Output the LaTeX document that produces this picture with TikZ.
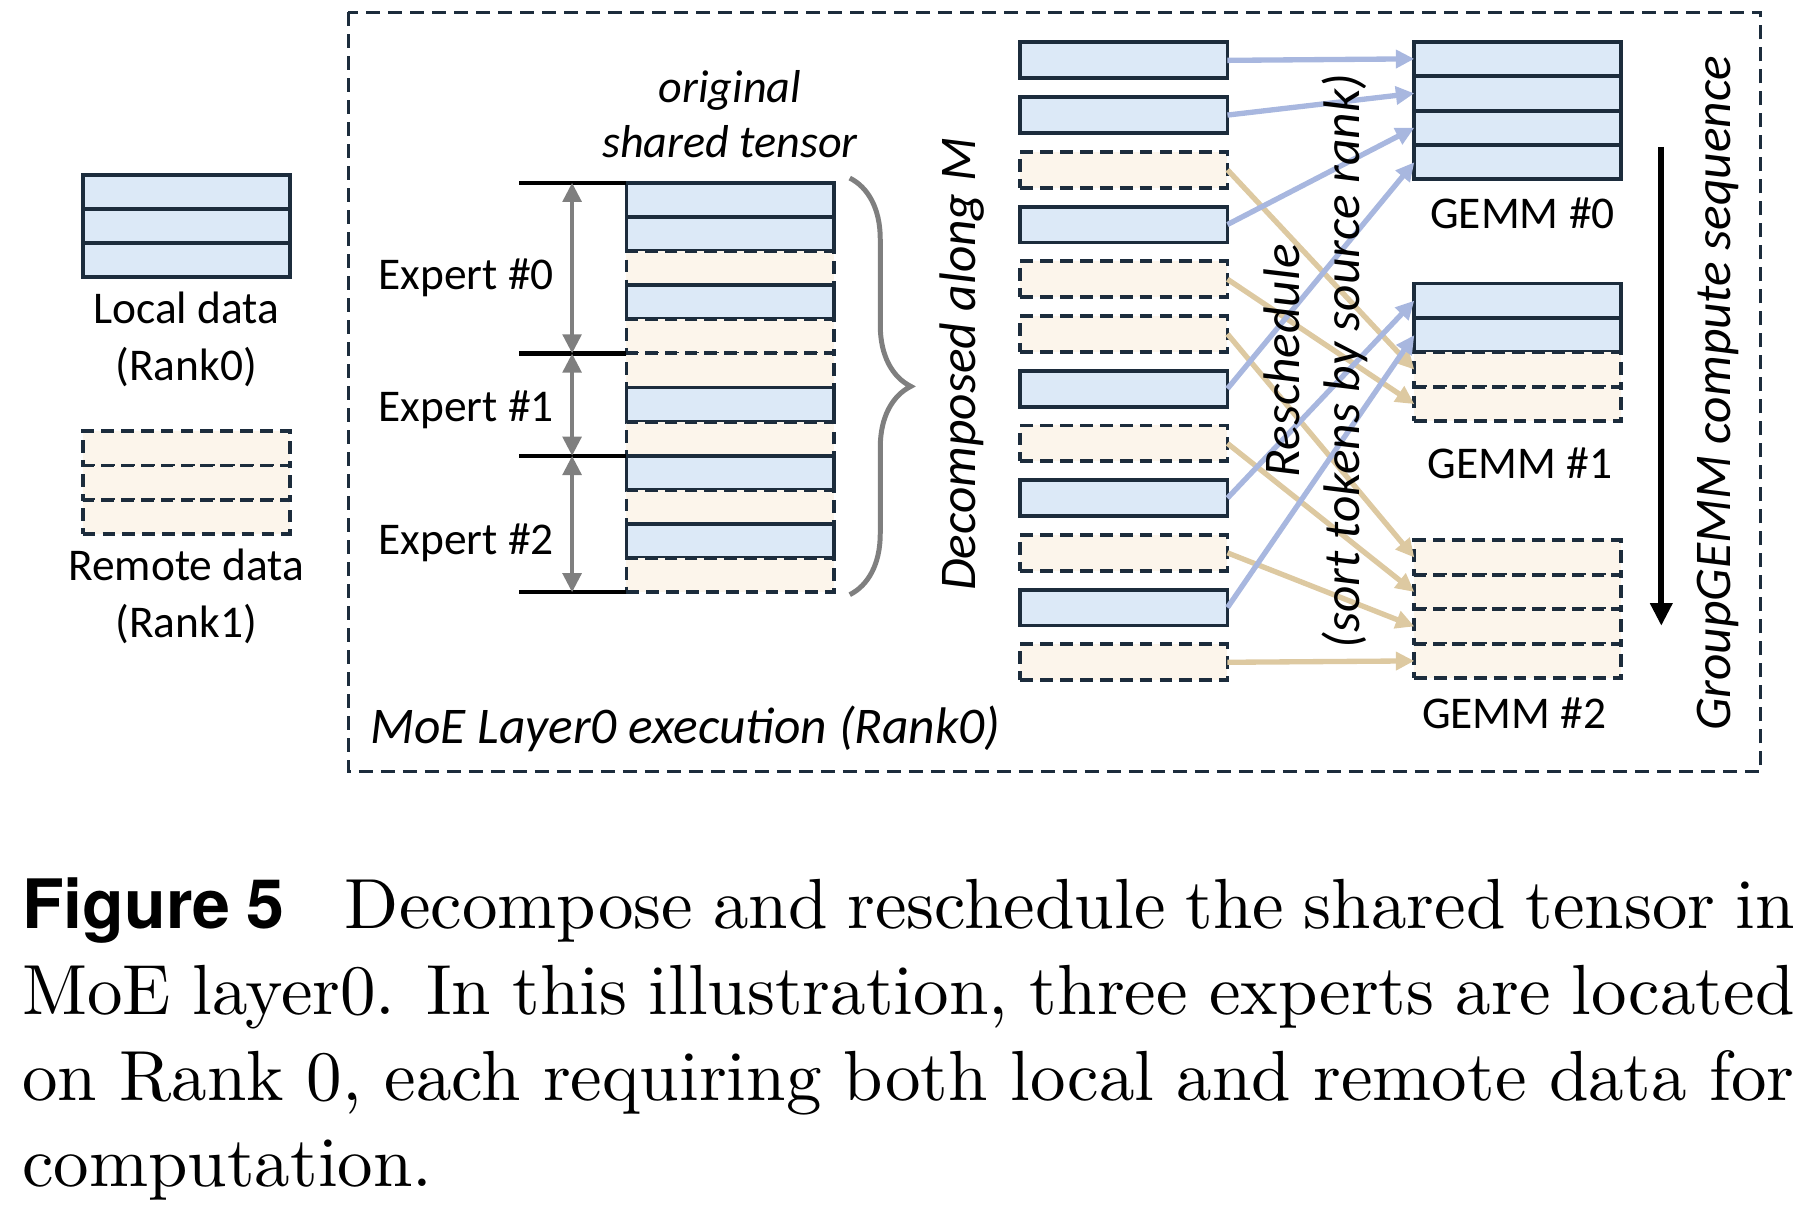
\documentclass[tikz,border=0pt]{standalone}
\usepackage{fontspec}
\newfontfamily\calibri{Carlito}
\newfontfamily\heros{TeX Gyre Heros}
\usetikzlibrary{positioning,arrows.meta,decorations.pathreplacing}
\definecolor{edge}{HTML}{1C2C3C}
\definecolor{localfill}{HTML}{DCE9F7}
\definecolor{remotefill}{HTML}{FCF5EB}
\definecolor{localarr}{HTML}{A8B7DF}
\definecolor{remotearr}{HTML}{DDC9A1}
\definecolor{markgray}{HTML}{7F7F7F}
\begin{document}
\begin{tikzpicture}[x=0.163pt,y=-0.163pt,
  row/.style={draw=edge,line width=0.55pt,inner sep=0pt,outer sep=0pt,minimum width=179*0.163pt,minimum height=29.6*0.163pt},
  loc/.style={row,fill=localfill},
  rem/.style={row,fill=remotefill,dash pattern=on 1.8pt off 1pt},
  lbl/.style={font=\calibri\fontsize{6.4}{7.7}\selectfont,inner sep=0pt,anchor=base},
  ital/.style={font=\calibri\itshape\fontsize{6.5}{7.8}\selectfont,inner sep=0pt,anchor=base},
  rot/.style={font=\calibri\itshape\fontsize{7.25}{8.7}\selectfont,inner sep=0pt,anchor=base,rotate=90},
  tip/.style={-{Triangle[length=2.6pt,width=2.5pt]}},
  la/.style={tip,line width=0.75pt,localarr},
  ra/.style={tip,line width=0.75pt,remotearr}]
\useasboundingbox (0,0) rectangle (1568,1054);
\draw[edge,line width=0.45pt,dash pattern=on 2pt off 1.1pt] (301,10.5) rectangle (1522,667);

\foreach \i in {1,2,3} \node[loc] (legl\i) at (161,136.2+29.5*\i) {};
\foreach \i in {1,2,3} \node[rem] (legr\i) at (161,358.2+29.5*\i) {};
\node[lbl] (loctxt) at (161,280) {Local data};
\node[lbl] (locrank) at (161,328.5) {(Rank0)};
\node[lbl] (remtxt) at (161,502) {Remote data};
\node[lbl] (remrank) at (161,551) {(Rank1)};

\node[ital] (orig) at (631,88.6) {original};
\node[ital] (shtxt) at (631,136) {shared tensor};
\foreach \t [count=\i] in {loc,loc,rem,loc,rem,rem,loc,rem,loc,rem,loc,rem}
  \node[\t] (st\i) at (631,143.25+29.5*\i) {};
\foreach \n [count=\k] in {st1.north west,st5.south west,st8.south west,st12.south west}{
  \draw[line width=0.6pt] (\n) -- ++(-93,0);
  \path (\n) ++(-47,0) coordinate (m\k);
}
\foreach \a/\b in {1/2,2/3,3/4}
  \draw[{Triangle[length=2.7pt,width=2.6pt]}-{Triangle[length=2.7pt,width=2.6pt]},line width=0.6pt,markgray] (m\a) -- (m\b);
\node[lbl,anchor=base west] (ex0) at (326,250) {Expert \#0};
\node[lbl,anchor=base west] (ex1) at (326,364) {Expert \#1};
\node[lbl,anchor=base west] (ex2) at (326,479) {Expert \#2};
\draw[markgray,line width=0.7pt,decorate,decoration={brace,amplitude=8.6pt}]
  ([shift={(14,-4)}]st1.north east) -- ([shift={(14,2)}]st12.south east);
\node[rot] (decomp) at (843,315) {Decomposed along M};

\foreach \t [count=\i] in {loc,loc,rem,loc,rem,rem,loc,rem,loc,rem,loc,rem}
  \node[\t,minimum height=31*0.163pt] (d\i) at (971.5,4.9+47.3*\i) {};
\foreach \g/\top/\ts in {0/36/{loc,loc,loc,loc},1/245/{loc,loc,rem,rem},2/467/{rem,rem,rem,rem}}
  \foreach \t [count=\i] in \ts
    \node[\t] (g\g r\i) at (1312,\top-14.9+29.8*\i) {};
\node[lbl] (gl0) at (1316,197.5) {GEMM \#0};
\node[lbl] (gl1) at (1314,414) {GEMM \#1};
\node[lbl] (gl2) at (1309,630) {GEMM \#2};

\foreach \a/\b in {d3/g1r3,d5/g1r4,d6/g2r1,d8/g2r2,d10/g2r3,d12/g2r4}
  \draw[ra] (\a.east) -- (\b.west);
\foreach \a/\b in {d1/g0r1,d2/g0r2,d4/g0r3,d7/g0r4,d9/g1r1,d11/g1r2}
  \draw[la] (\a.east) -- (\b.west);
\node[rot] (resched) at (1123,312) {Reschedule};
\node[rot] (sorttxt) at (1175,312) {(sort tokens by source rank)};

\coordinate (seqtop) at (1436,127);
\coordinate (seqbot) at (1436,541);
\draw[-{Triangle[length=3.2pt,width=3pt]},line width=0.8pt] (seqtop) -- (seqbot);
\node[rot] (seqtxt) at (1496,340) {GroupGEMM compute sequence};
\node[rot,rotate=-90,anchor=base west] (layer) at (319,643) {MoE Layer0 execution (Rank0)};

\node[anchor=base west,text width=1532*0.163pt,align=justify,inner sep=0pt,font=\fontsize{10}{12.1}\selectfont] (cap) at (18,803)
  {{\heros\bfseries\fontsize{9.6}{12}\selectfont Figure 5}\hspace{8.5pt}Decompose and reschedule the shared tensor in\linebreak
   MoE layer0. In this illustration, three experts are located\linebreak
   on Rank 0, each requiring both local and remote data for\linebreak
   computation.};
\end{tikzpicture}
\end{document}
